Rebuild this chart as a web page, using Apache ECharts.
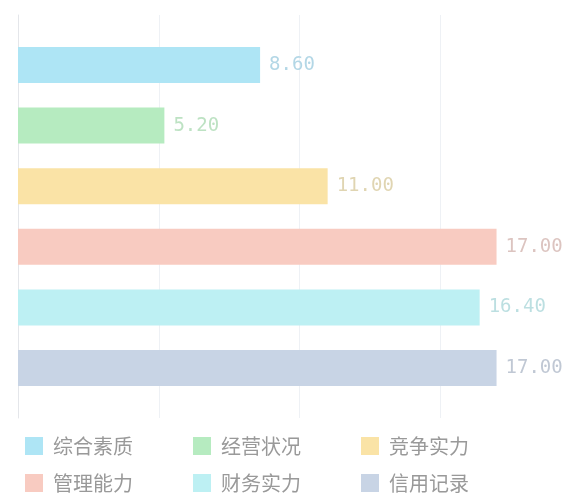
<!DOCTYPE html>
<html>
<head>
<meta charset="utf-8">
<script src="https://cdn.jsdelivr.net/npm/echarts@6/dist/echarts.min.js"></script>
<style>
html,body{margin:0;padding:0;background:#fff;}
#chart{width:581px;height:496px;}
</style>
</head>
<body>
<div id="chart"></div>
<script>
var categories = ['综合素质', '经营状况', '竞争实力', '管理能力', '财务实力', '信用记录'];
var values = [8.6, 5.2, 11, 17, 16.4, 17];
var barColors = ['#aee5f5', '#b6ebc0', '#fae3a6', '#f8cbc1', '#bdf0f3', '#c8d4e5'];
var labelColors = ['#b3d7e6', '#bde2c3', '#e0d5b2', '#dcc4c0', '#bcdfe1', '#c0c8d4'];
var xTicks = [0, 5, 10, 15, 20];

var series = categories.map(function (name, i) {
  return {
    name: name,
    type: 'bar',
    data: [values[i]],
    barWidth: 36,
    barGap: '68.3%',
    itemStyle: { color: barColors[i] },
    label: {
      show: true,
      position: 'right',
      distance: 9,
      color: labelColors[i],
      fontFamily: 'DejaVu Sans Mono',
      fontSize: 19,
      formatter: function (p) { return p.value.toFixed(2); }
    }
  };
});

function legendFor(names, top) {
  return {
    data: names,
    left: 20,
    top: top,
    orient: 'horizontal',
    itemWidth: 18,
    itemHeight: 18,
    itemGap: 60,
    icon: 'rect',
    textStyle: {
      color: '#999',
      fontSize: 20,
      fontFamily: 'Noto Sans CJK SC',
      padding: [0, 0, 0, 5]
    }
  };
}

var chart = echarts.init(document.getElementById('chart'));
chart.setOption({
  animation: false,
  grid: { left: 18, right: -2, top: 15, bottom: 78, containLabel: false },
  xAxis: {
    type: 'value',
    min: xTicks[0],
    max: xTicks[xTicks.length - 1],
    interval: xTicks[1] - xTicks[0],
    axisLine: { show: false },
    axisTick: { show: false },
    axisLabel: { show: false },
    splitLine: { show: true, lineStyle: { color: '#eef1f5', width: 1 } }
  },
  yAxis: {
    type: 'category',
    data: [''],
    axisLine: { show: true, lineStyle: { color: '#e4e6ea' } },
    axisTick: { show: false },
    axisLabel: { show: false }
  },
  legend: [legendFor(categories.slice(0, 3), 431), legendFor(categories.slice(3, 6), 468)],
  series: series
});
</script>
</body>
</html>
